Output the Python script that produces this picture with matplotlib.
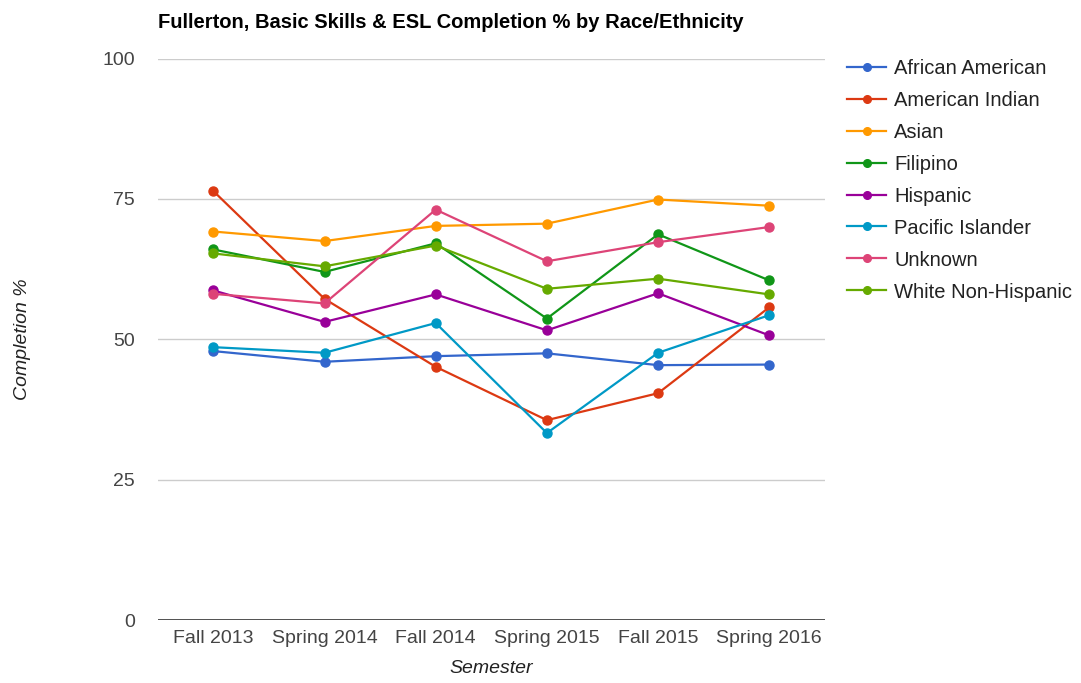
import matplotlib
matplotlib.use("Agg")
import matplotlib.pyplot as plt
from matplotlib.lines import Line2D

semesters = ["Fall 2013", "Spring 2014", "Fall 2014", "Spring 2015", "Fall 2015", "Spring 2016"]

african_american = [47.9, 46.0, 47.0, 47.5, 45.4, 45.5]
american_indian = [76.4, 57.2, 45.1, 35.6, 40.4, 55.7]
asian = [69.2, 67.5, 70.2, 70.6, 74.9, 73.8]
filipino = [66.0, 62.0, 67.1, 53.7, 68.7, 60.5]
hispanic = [58.7, 53.1, 58.0, 51.6, 58.2, 50.7]
pacific_islander = [48.6, 47.6, 52.9, 33.3, 47.6, 54.3]
unknown = [58.1, 56.4, 73.1, 63.9, 67.3, 70.0]
white_non_hispanic = [65.3, 63.0, 66.7, 59.0, 60.8, 58.0]

series_names = ["African American", "American Indian", "Asian", "Filipino",
                "Hispanic", "Pacific Islander", "Unknown", "White Non-Hispanic"]
series_values = [african_american, american_indian, asian, filipino,
                 hispanic, pacific_islander, unknown, white_non_hispanic]
colors = ["#3366cc", "#dc3912", "#ff9900", "#109618",
          "#990099", "#0099c6", "#dd4477", "#66aa00"]

y_ticks = [0, 25, 50, 75, 100]

plt.rcParams["font.family"] = ["Liberation Sans", "DejaVu Sans"]

fig = plt.figure(figsize=(10.81, 6.83), dpi=100)
ax = fig.add_axes([0.146, 0.0922, 0.617, 0.822])

x = list(range(len(semesters)))
for name, vals, c in zip(series_names, series_values, colors):
    ax.plot(x, vals, color=c, lw=1.6, marker="o", ms=6.5, label=name,
            solid_joinstyle="round")

ax.set_xlim(-0.5, len(semesters) - 0.5)
ax.set_ylim(0, 100)
ax.set_yticks(y_ticks)
ax.set_yticklabels([str(t) for t in y_ticks])
ax.set_xticks(x)
ax.set_xticklabels(semesters)
ax.tick_params(axis="both", length=0, labelsize=14, colors="#444444")
ax.tick_params(axis="y", pad=16.5)
ax.tick_params(axis="x", pad=7)

for t in y_ticks[1:]:
    ax.axhline(t, color="#cccccc", lw=1, zorder=0)
ax.axhline(0, color="#333333", lw=1.2, zorder=3)
for s in ax.spines.values():
    s.set_visible(False)

ax.set_xlabel("Semester", fontsize=14, style="italic", color="#222222")
ax.set_ylabel("Completion %", fontsize=14, style="italic", color="#222222")
ax.xaxis.set_label_coords(0.5, -0.071)
ax.yaxis.set_label_coords(-0.19, 0.5)

fig.text(0.146, 0.967, "Fullerton, Basic Skills & ESL Completion % by Race/Ethnicity",
         fontsize=14.5, fontweight="bold", color="#000000", ha="left", va="center")

handles = [Line2D([0], [0], color=c, lw=1.6, marker="o", ms=5.5) for c in colors]
leg = fig.legend(handles, series_names, loc="upper left",
                 bbox_to_anchor=(0.776, 0.926), frameon=False,
                 fontsize=14.5, handlelength=1.95, handletextpad=0.4,
                 labelspacing=0.645, borderaxespad=0)
for t in leg.get_texts():
    t.set_color("#222222")

fig.savefig("out.png", dpi=100, facecolor="white")
